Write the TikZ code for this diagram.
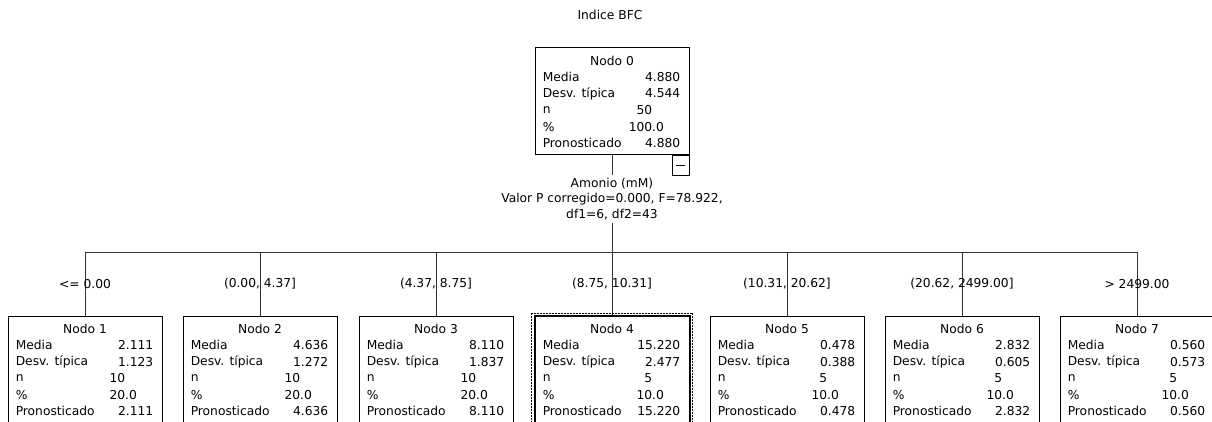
\documentclass[tikz,border=0pt]{standalone}
\usepackage{fontspec}
\setmainfont{DejaVu Sans}
\usetikzlibrary{calc}

\begin{document}
\begin{tikzpicture}[x=0.75pt,y=-0.75pt,
    every node/.style={font=\fontsize{9.2}{11}\selectfont, inner sep=0pt, text=black},
    box/.style={draw, line width=0.75pt, minimum width=115.5pt, minimum height=82.5pt, anchor=north},
    edge/.style={line width=0.75pt, black!80}]

    \clip (0,0) rectangle (1212,421);

    \node (title) at (610,15) {Indice BFC};

    % root
    \node[box, minimum height=80.25pt] (n0) at (612,47) {};
    \node at ($(n0.north)+(0,14)$) {Nodo 0};
    \node[anchor=west] at ($(n0.north west)+(8,30)$) {Media};
    \node[anchor=west] at ($(n0.north west)+(8,46.6)$) {Desv. típica};
    \node[anchor=west] at ($(n0.north west)+(8,63.2)$) {n};
    \node[anchor=west] at ($(n0.north west)+(8,79.8)$) {\%};
    \node[anchor=west] at ($(n0.north west)+(8,96.4)$) {Pronosticado};
    \node[anchor=east] at ($(n0.north east)+(-9,30)$) {4.880};
    \node[anchor=east] at ($(n0.north east)+(-9,46.6)$) {4.544};
    \node[anchor=east] at ($(n0.north east)+(-37,63.2)$) {50};
    \node[anchor=east] at ($(n0.north east)+(-37,79.8)$) {100\rlap{.0}};
    \node[anchor=east] at ($(n0.north east)+(-9,96.4)$) {4.880};
    \node[draw, line width=0.75pt, minimum width=12.75pt, minimum height=15pt, anchor=north east] (fold) at (n0.south east) {};
    \draw ($(fold.center)+(-4.5,0)$) -- ($(fold.center)+(4.5,0)$);

    \node[align=center, inner sep=2pt] (split) at (612,199)
        {Amonio (mM)\\Valor P corregido=0.000, F=78.922,\\[1pt]df1=6, df2=43};
    \coordinate (bar) at (612,252);
    \draw[edge] (n0) -- (split);
    \draw[edge] (split) -- (bar);

    % children
    \foreach \i/\cx/\lab/\me/\sd/\nn/\pc in {
        1/85/{<= 0.00}/2.111/1.123/10/20,
        2/260/{(0.00, 4.37]}/4.636/1.272/10/20,
        3/436/{(4.37, 8.75]}/8.110/1.837/10/20,
        4/612/{(8.75, 10.31]}/15.220/2.477/5/10,
        5/787/{(10.31, 20.62]}/0.478/0.388/5/10,
        6/962/{(20.62, 2499.00]}/2.832/0.605/5/10,
        7/1137/{> 2499.00}/0.560/0.573/5/10}
    {
        \node[box] (n\i) at (\cx,316) {};
        \draw[edge] (bar) -| (n\i.north) node[pos=0.75] {\lab};
        \node at ($(n\i.north)+(0,13)$) {Nodo \i};
        \node[anchor=west] at ($(n\i.north west)+(8,29)$) {Media};
        \node[anchor=west] at ($(n\i.north west)+(8,45.6)$) {Desv. típica};
        \node[anchor=west] at ($(n\i.north west)+(8,62.2)$) {n};
        \node[anchor=west] at ($(n\i.north west)+(8,78.8)$) {\%};
        \node[anchor=west] at ($(n\i.north west)+(8,95.4)$) {Pronosticado};
        \node[anchor=east] at ($(n\i.north east)+(-9,29)$) {\me};
        \node[anchor=east] at ($(n\i.north east)+(-9,45.6)$) {\sd};
        \node[anchor=east] at ($(n\i.north east)+(-37,62.2)$) {\nn};
        \node[anchor=east] at ($(n\i.north east)+(-37,78.8)$) {\pc\rlap{.0}};
        \node[anchor=east] at ($(n\i.north east)+(-9,95.4)$) {\me};
    }

    % selected node
    \draw[line width=1.5pt] (n4.north west) rectangle (n4.south east);
    \draw[line width=0.75pt, dash pattern=on 1.5pt off 0.75pt] ($(n4.north west)+(-3,-3)$) rectangle ($(n4.south east)+(3,3)$);

\end{tikzpicture}
\end{document}
